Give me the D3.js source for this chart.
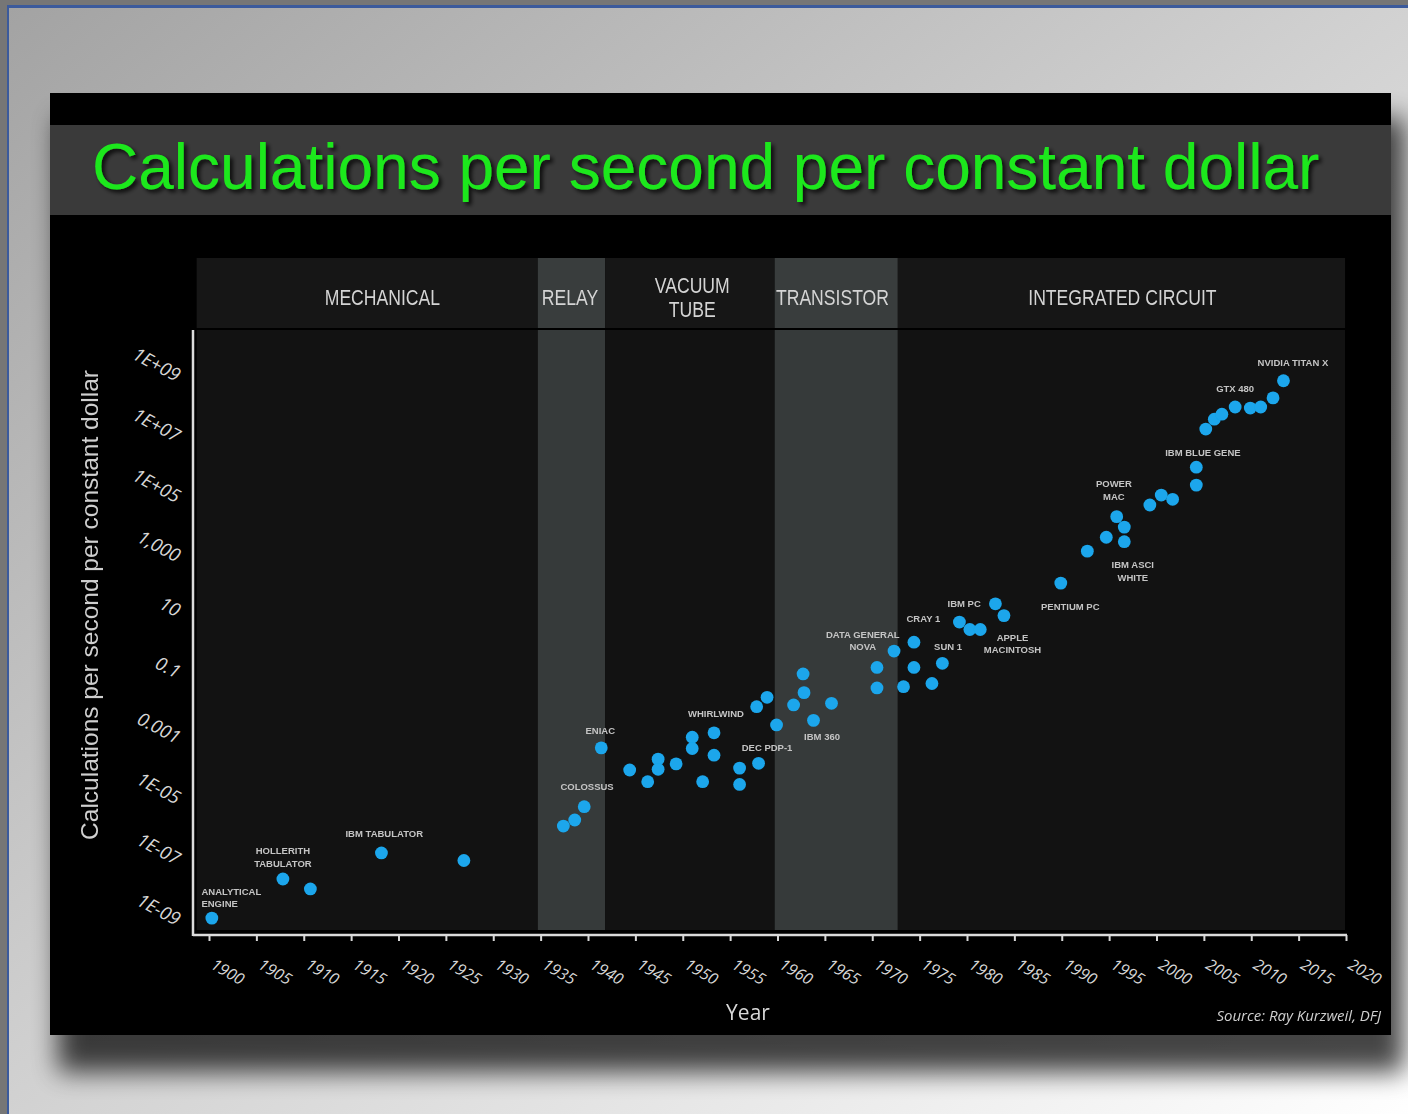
<!DOCTYPE html>
<html>
<head>
<meta charset="utf-8">
<script src="https://cdn.jsdelivr.net/npm/d3@7"></script>
<style>
  html, body { margin: 0; padding: 0; background: #767676; }
  svg { display: block; }
</style>
</head>
<body>
<svg id="chart" width="1408" height="1114"></svg>
<script>
// ---- data ----------------------------------------------------------------
// Machines: year introduced and calculations per second per constant dollar
const years = [
  1900.3, 1907.8, 1910.7, 1918.2, 1926.9,
  1937.4, 1938.6, 1939.6, 1941.4, 1944.4, 1946.3, 1947.4, 1947.4, 1949.3,
  1951.0, 1951.0, 1952.1, 1953.3, 1953.3, 1956.0, 1956.0, 1958.0, 1957.8,
  1958.9, 1959.9, 1961.7, 1962.8, 1962.7, 1963.8, 1965.7,
  1970.5, 1970.5, 1972.3, 1973.3, 1974.4, 1974.4, 1976.3, 1977.4,
  1979.2, 1980.3, 1981.4, 1983.0, 1983.9,
  1989.9, 1992.7, 1994.7, 1995.8, 1996.6, 1996.6, 1999.3, 2000.5, 2001.7,
  2004.2, 2004.2, 2005.2, 2006.1, 2006.9, 2008.3, 2009.9, 2011.0, 2012.3, 2013.4
];
const values = [
  5.0e-10, 9.8e-9, 4.6e-9, 7.1e-8, 4.0e-8,
  5.5e-7, 8.7e-7, 2.4e-6, 2.1e-4, 3.9e-5, 1.6e-5, 8.9e-5, 4.1e-5, 6.2e-5,
  4.7e-4, 2.0e-4, 1.6e-5, 6.6e-4, 1.2e-4, 4.5e-5, 1.3e-5, 6.5e-5, 4.8e-3,
  9.8e-3, 1.2e-3, 5.5e-3, 1.4e-2, 5.8e-2, 1.7e-3, 6.2e-3,
  9.5e-2, 2.0e-2, 0.33, 2.2e-2, 0.65, 9.5e-2, 2.8e-2, 0.13,
  3.0, 1.7, 1.7, 12, 4.9,
  58, 660, 1900, 9100, 4100, 1350, 2.2e4, 4.7e4, 3.4e4,
  3.9e5, 1.0e5, 7.1e6, 1.5e7, 2.2e7, 3.8e7, 3.5e7, 3.8e7, 7.6e7, 2.8e8
];

// Technology eras (years) and where each era name sits
const eraNames     = [["MECHANICAL"], ["RELAY"], ["VACUUM", "TUBE"], ["TRANSISTOR"], ["INTEGRATED CIRCUIT"]];
const eraStart     = [1898.7, 1934.7, 1941.8, 1959.7, 1972.7];
const eraEnd       = [1934.7, 1941.8, 1959.7, 1972.7, 2019.9];
const eraShaded    = [false, true, false, true, false];
const eraLabelYear = [1918.3, 1938.1, 1951.0, 1965.8, 1996.4];

// Axis ticks
const xTicks = d3.range(1900, 2021, 5);
const yTicks = [1e-9, 1e-7, 1e-5, 1e-3, 1e-1, 10, 1e3, 1e5, 1e7, 1e9];
const yTickLabels = ["1E-09", "1E-07", "1E-05", "0.001", "0.1", "10", "1,000", "1E+05", "1E+07", "1E+09"];

// Machine name annotations, placed in data coordinates
const noteLines = [
  ["ANALYTICAL", "ENGINE"], ["HOLLERITH", "TABULATOR"], ["IBM TABULATOR"], ["COLOSSUS"],
  ["ENIAC"], ["WHIRLWIND"], ["DEC PDP-1"], ["IBM 360"], ["DATA GENERAL", "NOVA"],
  ["CRAY 1"], ["SUN 1"], ["IBM PC"], ["APPLE", "MACINTOSH"], ["PENTIUM PC"],
  ["POWER", "MAC"], ["IBM ASCI", "WHITE"], ["IBM BLUE GENE"], ["GTX 480"], ["NVIDIA TITAN X"]
];
const noteYear  = [1899.2, 1907.8, 1918.5, 1939.9, 1941.3, 1953.5, 1958.9, 1964.7, 1969.0,
                   1975.4, 1978.0, 1979.7, 1984.8, 1990.9, 1995.5, 1997.5, 2004.9, 2008.3, 2014.4];
const noteValue = [3.9e-9, 8.3e-8, 3.2e-7, 1.1e-5, 7.6e-4, 2.8e-3, 2.1e-4, 4.8e-4, 1.2,
                   3.8, 0.45, 12, 0.95, 10, 1.1e5, 230, 1.2e6, 1.6e8, 1.1e9];
const noteAnchor = ["start"].concat(d3.range(18).map(() => "middle"));

const titleText = "Calculations per second per constant dollar";
const yTitle = "Calculations per second per constant dollar";
const xTitle = "Year";
const sourceText = "Source: Ray Kurzweil, DFJ";

// ---- drawing -------------------------------------------------------------
const svg = d3.select("#chart");
const W = 1408, H = 1114;
const defs = svg.append("defs");

const bg = defs.append("linearGradient").attr("id", "bgGrad")
  .attr("x1", 0).attr("y1", 0).attr("x2", 1).attr("y2", 1);
bg.append("stop").attr("offset", 0).attr("stop-color", "#a3a3a3");
bg.append("stop").attr("offset", 0.5).attr("stop-color", "#d2d2d2");
bg.append("stop").attr("offset", 1).attr("stop-color", "#ffffff");

defs.append("filter").attr("id", "shadowBlur")
  .attr("x", "-10%").attr("y", "-10%").attr("width", "120%").attr("height", "120%")
  .append("feGaussianBlur").attr("stdDeviation", 13);

const ts = defs.append("filter").attr("id", "titleShadow")
  .attr("x", "-5%").attr("y", "-30%").attr("width", "110%").attr("height", "160%");
ts.append("feDropShadow").attr("dx", 3).attr("dy", 3).attr("stdDeviation", 2)
  .attr("flood-color", "#000").attr("flood-opacity", 0.8);

defs.append("filter").attr("id", "soft")
  .attr("x", "-20%").attr("y", "-20%").attr("width", "140%").attr("height", "140%")
  .append("feGaussianBlur").attr("stdDeviation", 0.6);

// page frame
svg.append("rect").attr("width", W).attr("height", H).attr("fill", "#767676");
svg.append("rect").attr("x", 7).attr("y", 5).attr("width", W).attr("height", H).attr("fill", "#3b5a9c");
svg.append("rect").attr("x", 9).attr("y", 8).attr("width", W).attr("height", H).attr("fill", "url(#bgGrad)");

// panel with its shadow
svg.append("rect").attr("x", 58).attr("y", 118).attr("width", 1346).attr("height", 954)
  .attr("fill", "#000").attr("opacity", 0.72).attr("filter", "url(#shadowBlur)");
svg.append("rect").attr("x", 50).attr("y", 93).attr("width", 1341).attr("height", 942).attr("fill", "#000");

// title band
svg.append("rect").attr("x", 50).attr("y", 125).attr("width", 1341).attr("height", 90).attr("fill", "#3a3a3a");
svg.append("text").attr("x", 92).attr("y", 189)
  .attr("font-family", "'Liberation Sans', Arial, sans-serif").attr("font-size", 64)
  .attr("fill", "#1fe81f").attr("filter", "url(#titleShadow)")
  .text(titleText);

// scales
const x = d3.scaleLinear().domain([1900, 2020]).range([209, 1346]);
const y = d3.scaleLog().domain([1e-9, 1e9]).range([909, 364]);

const headTop = 258, headBottom = 328, plotTop = 330, plotBottom = 930;

// era columns: header cells and plot columns
const eras = eraNames.map((n, i) => ({ n, s: eraStart[i], e: eraEnd[i], shaded: eraShaded[i], ly: eraLabelYear[i] }));
const eraG = svg.append("g");
eraG.selectAll("rect.head").data(eras).join("rect").attr("class", "head")
  .attr("x", d => x(d.s)).attr("width", d => x(d.e) - x(d.s))
  .attr("y", headTop).attr("height", headBottom - headTop)
  .attr("fill", d => d.shaded ? "#393d3d" : "#161616");
eraG.selectAll("rect.col").data(eras).join("rect").attr("class", "col")
  .attr("x", d => x(d.s)).attr("width", d => x(d.e) - x(d.s))
  .attr("y", plotTop).attr("height", plotBottom - plotTop)
  .attr("fill", d => d.shaded ? "#363a3a" : "#121212");

// era names, horizontally condensed
const headText = svg.append("g").attr("filter", "url(#soft)")
  .attr("font-family", "'Liberation Sans', Arial, sans-serif")
  .attr("font-size", 22).attr("fill", "#d4d4d4").attr("text-anchor", "middle");
eras.forEach(d => {
  const cx = x(d.ly);
  const n = d.n.length;
  d.n.forEach((line, k) => {
    const cy = (headTop + headBottom) / 2 + 4 + (k - (n - 1) / 2) * 24;
    headText.append("text")
      .attr("transform", `translate(${cx},${cy}) scale(0.8,1)`)
      .attr("dy", "0.36em").text(line);
  });
});

// x axis
const xAxisG = svg.append("g").attr("transform", `translate(0,935)`)
  .call(d3.axisBottom(x).tickValues(xTicks).tickSize(6).tickSizeOuter(0).tickFormat(d3.format("d")));
xAxisG.select(".domain").remove();
xAxisG.selectAll(".tick line").attr("stroke", "#d8d8d8").attr("stroke-width", 2);
xAxisG.selectAll(".tick text")
  .attr("fill", "#d6d6d6").attr("font-size", 16)
  .attr("font-family", "'Open Sans', 'DejaVu Sans', sans-serif").attr("font-style", "italic")
  .attr("text-anchor", "start").attr("x", 0).attr("y", 0).attr("dy", "0.35em")
  .attr("transform", "translate(3,28) rotate(30)");
xAxisG.append("line").attr("x1", 193).attr("x2", x(2020) + 1).attr("y1", 0).attr("y2", 0)
  .attr("stroke", "#dcdcdc").attr("stroke-width", 2.5);

// y axis
const yAxisG = svg.append("g").attr("transform", `translate(193,0)`)
  .call(d3.axisLeft(y).tickValues(yTicks).tickSize(0).tickFormat((d, i) => yTickLabels[i]));
yAxisG.select(".domain").remove();
yAxisG.append("line").attr("x1", 0).attr("x2", 0).attr("y1", plotTop).attr("y2", 936)
  .attr("stroke", "#dcdcdc").attr("stroke-width", 2.5);
const ang = 28 * Math.PI / 180;
yAxisG.selectAll(".tick text")
  .attr("fill", "#d6d6d6").attr("font-size", 18.5)
  .attr("font-family", "'Open Sans', 'DejaVu Sans', sans-serif").attr("font-style", "italic")
  .attr("text-anchor", "middle").attr("x", 0).attr("dy", "0.35em")
  .each(function () {
    const w = this.getComputedTextLength();
    d3.select(this).attr("transform", `translate(${-14 - (w / 2) * Math.cos(ang)},0) rotate(28)`);
  });

// axis titles and source
svg.append("text").attr("transform", "translate(98,605) rotate(-90)")
  .attr("text-anchor", "middle").attr("font-family", "'Liberation Sans', Arial, sans-serif")
  .attr("font-size", 24.5).attr("fill", "#cfcfcf").attr("filter", "url(#soft)").text(yTitle);
svg.append("text").attr("x", 748).attr("y", 1020)
  .attr("text-anchor", "middle").attr("font-family", "'Open Sans', 'DejaVu Sans', sans-serif")
  .attr("font-size", 21).attr("fill", "#d8d8d8").attr("filter", "url(#soft)").text(xTitle);
svg.append("text").attr("x", 1381).attr("y", 1021)
  .attr("text-anchor", "end").attr("font-family", "'Open Sans', 'DejaVu Sans', sans-serif")
  .attr("font-style", "italic").attr("font-size", 15).attr("fill", "#cfcfcf")
  .attr("filter", "url(#soft)").text(sourceText);

// data points
const pts = years.map((yr, i) => ({ yr, v: values[i] }));
svg.append("g").attr("filter", "url(#soft)")
  .selectAll("circle").data(pts).join("circle")
  .attr("cx", d => x(d.yr)).attr("cy", d => y(d.v)).attr("r", 6.4)
  .attr("fill", "#1aa6ec");

// machine names
const notes = noteLines.map((lines, i) => ({ lines, yr: noteYear[i], v: noteValue[i], a: noteAnchor[i] }));
const noteG = svg.append("g").attr("filter", "url(#soft)")
  .attr("font-family", "'Liberation Sans', Arial, sans-serif").attr("font-size", 9.5)
  .attr("font-weight", "bold").attr("fill", "#c4c4c4");
notes.forEach(d => {
  d.lines.forEach((line, k) => {
    noteG.append("text").attr("x", x(d.yr)).attr("y", y(d.v) + k * 12.5)
      .attr("dy", "0.36em").attr("text-anchor", d.a).text(line);
  });
});
</script>
</body>
</html>
